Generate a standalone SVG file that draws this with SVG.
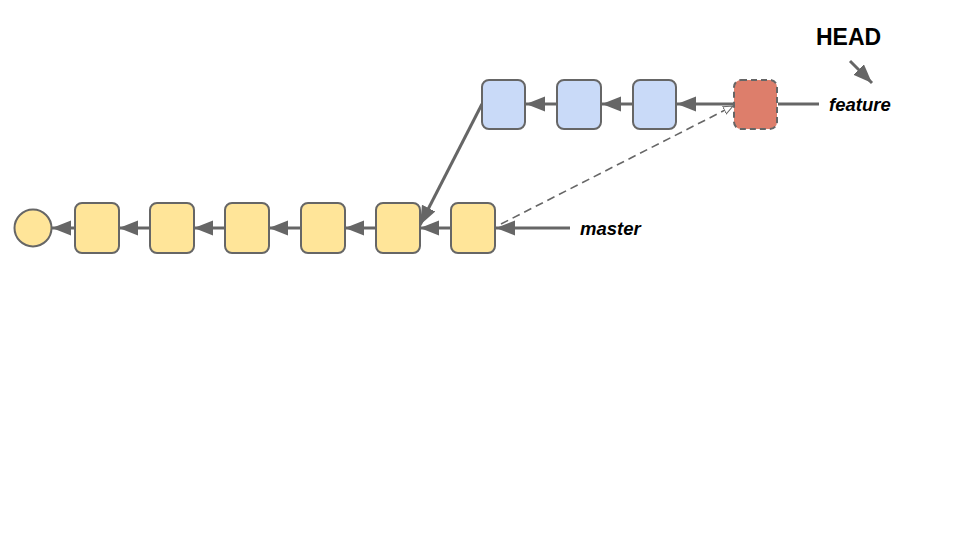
<svg xmlns="http://www.w3.org/2000/svg" width="960" height="540" viewBox="0 0 960 540">
<defs>
<style>
.y{fill:#ffe599;stroke:#666;stroke-width:2}
.b{fill:#c9daf8;stroke:#666;stroke-width:2}
.r{fill:#dd7e6b;stroke:#666;stroke-width:2;stroke-dasharray:6 4}
.c{stroke:#666;stroke-width:3;fill:none}
.d{stroke:#666;stroke-width:1.6;fill:none;stroke-dasharray:8 5}
.lbl{font-family:"Liberation Sans",Arial,sans-serif;font-weight:bold;font-style:italic;font-size:18.5px;fill:#000}
.head{font-family:"Liberation Sans",Arial,sans-serif;font-weight:bold;font-size:23px;fill:#000}
</style>
<marker id="a" markerUnits="userSpaceOnUse" markerWidth="20" markerHeight="16" refX="19" refY="7.5" orient="auto">
<path d="M0,0 L19,7.5 L0,15 Z" fill="#666"/>
</marker>
<marker id="o" markerUnits="userSpaceOnUse" markerWidth="12" markerHeight="10" refX="10" refY="4.5" orient="auto">
<path d="M0.5,0.5 L10,4.5 L0.5,8.5 Z" fill="#fff" stroke="#666" stroke-width="1"/>
</marker>
</defs>
<rect width="960" height="540" fill="#fff"/>
<g id="connectors">
<line class="c" x1="75" y1="228" x2="52" y2="228" marker-end="url(#a)"/>
<line class="c" x1="150" y1="228" x2="119" y2="228" marker-end="url(#a)"/>
<line class="c" x1="225" y1="228" x2="194" y2="228" marker-end="url(#a)"/>
<line class="c" x1="301" y1="228" x2="269" y2="228" marker-end="url(#a)"/>
<line class="c" x1="376" y1="228" x2="345" y2="228" marker-end="url(#a)"/>
<line class="c" x1="451" y1="228" x2="420" y2="228" marker-end="url(#a)"/>
<line class="c" x1="570" y1="228" x2="496" y2="228" marker-end="url(#a)"/>
<line class="c" x1="482" y1="104" x2="420" y2="225" marker-end="url(#a)"/>
<line class="c" x1="557" y1="104" x2="526" y2="104" marker-end="url(#a)"/>
<line class="c" x1="633" y1="104" x2="602" y2="104" marker-end="url(#a)"/>
<line class="c" x1="734" y1="104" x2="677" y2="104" marker-end="url(#a)"/>
<line class="c" x1="778" y1="104" x2="819" y2="104"/>
<line class="d" x1="501" y1="224" x2="733" y2="106" marker-end="url(#o)"/>
<line class="c" x1="850" y1="61" x2="872" y2="83" marker-end="url(#a)"/>
</g>
<g id="root"><circle class="y" cx="33" cy="228" r="18.5"/></g>
<g id="y1"><rect class="y" x="75" y="203" width="44" height="50" rx="7"/></g>
<g id="y2"><rect class="y" x="150" y="203" width="44" height="50" rx="7"/></g>
<g id="y3"><rect class="y" x="225" y="203" width="44" height="50" rx="7"/></g>
<g id="y4"><rect class="y" x="301" y="203" width="44" height="50" rx="7"/></g>
<g id="y5"><rect class="y" x="376" y="203" width="44" height="50" rx="7"/></g>
<g id="y6"><rect class="y" x="451" y="203" width="44" height="50" rx="7"/></g>
<g id="b1"><rect class="b" x="482" y="80" width="43" height="49" rx="7"/></g>
<g id="b2"><rect class="b" x="557" y="80" width="44" height="49" rx="7"/></g>
<g id="b3"><rect class="b" x="633" y="80" width="43" height="49" rx="7"/></g>
<g id="r1"><rect class="r" x="734" y="80" width="43" height="49" rx="7"/></g>
<g id="master"><text class="lbl" x="580" y="235">master</text></g>
<g id="feature"><text class="lbl" x="829" y="111">feature</text></g>
<g id="HEAD"><text class="head" x="816" y="45">HEAD</text></g>
</svg>
